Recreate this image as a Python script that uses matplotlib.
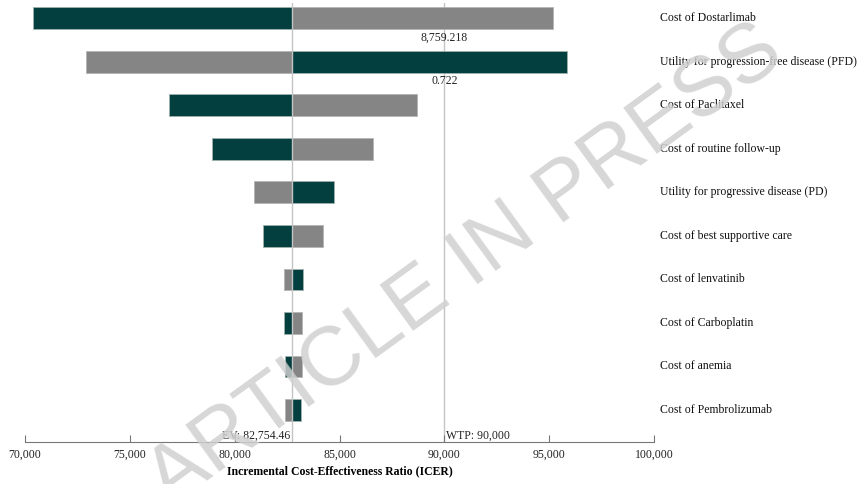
import matplotlib
matplotlib.use("Agg")
import matplotlib.pyplot as plt
import matplotlib.transforms as mtransforms

plt.rcParams['font.family'] = ['Liberation Serif', 'DejaVu Serif']

# one-way sensitivity analysis, ICER at low / high input value
params = ['Cost of Dostarlimab',
          'Utility for progression-free disease (PFD)',
          'Cost of Paclitaxel',
          'Cost of routine follow-up',
          'Utility for progressive disease (PD)',
          'Cost of best supportive care',
          'Cost of lenvatinib',
          'Cost of Carboplatin',
          'Cost of anemia',
          'Cost of Pembrolizumab']
icer_low = [70380, 95830, 76860, 78930, 84755, 81340, 83245, 82340, 82405, 83170]
icer_high = [95160, 72900, 88700, 86580, 80910, 84200, 82340, 83215, 83215, 82405]
ev = 82754.46
wtp = 90000
thresholds = ['8,759.218', '0.722']
xticks = [70000, 75000, 80000, 85000, 90000, 95000, 100000]

dark = '#033f3e'
grey = '#858585'

fig = plt.figure(figsize=(8.64, 4.84), dpi=100)
ax = fig.add_axes([0.029, 0.0868, 0.728, 0.907])

for i, (lo, hi) in enumerate(zip(icer_low, icer_high)):
    ax.barh(i, lo - ev, left=ev, height=0.5, color=dark, edgecolor='#9fb0ae', linewidth=0.6, zorder=2)
    ax.barh(i, hi - ev, left=ev, height=0.5, color=grey, edgecolor='#b5b5b5', linewidth=0.6, zorder=2)

ax.axvline(ev, color='#c4c4c4', lw=1, zorder=3)
ax.axvline(wtp, color='#c4c4c4', lw=1, zorder=1)

for i, t in enumerate(thresholds):
    ax.text(wtp, i + 0.44, t, ha='center', va='center', fontsize=8.5, color='#222222')

ax.text(ev - 100, 9.6, f'EV: {ev:,.2f}', ha='right', va='center', fontsize=8.5, color='#222222')
ax.text(wtp + 100, 9.6, f'WTP: {wtp:,}', ha='left', va='center', fontsize=8.5, color='#222222')

trans = mtransforms.blended_transform_factory(ax.transAxes, ax.transData)
for i, p in enumerate(params):
    ax.text(1.01, i, p, transform=trans, ha='left', va='center', fontsize=8.5, color='#111111')

ax.set_xlim(70000, 100000)
ax.set_ylim(9.735, -0.35)
ax.set_xticks(xticks)
ax.set_xticklabels([f'{v:,}' for v in xticks], fontsize=8.5, color='#222222')
ax.set_yticks([])
ax.tick_params(axis='x', direction='in', length=5, color='#777777', pad=5)
for s in ['top', 'right', 'left']:
    ax.spines[s].set_visible(False)
ax.spines['bottom'].set_color('#777777')
ax.set_xlabel('Incremental Cost-Effectiveness Ratio (ICER)', fontsize=8.5, fontweight='bold', labelpad=3)

# watermark over the plot
fig.text(0.538, 0.45, 'ARTICLE IN PRESS', fontsize=60, rotation=36, color='#d0d0d0', alpha=0.85,
         ha='center', va='center', family='Liberation Sans', zorder=10)

fig.savefig('out.png', dpi=100)
